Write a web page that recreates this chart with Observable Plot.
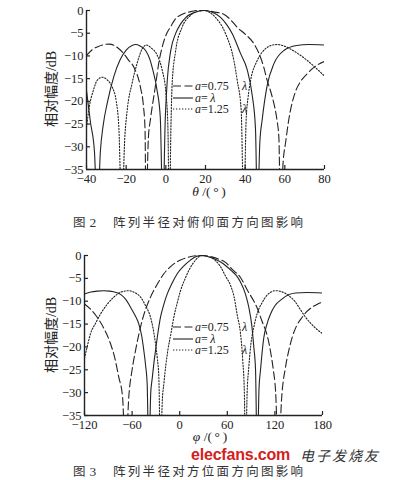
<!DOCTYPE html>
<html lang="zh-CN"><head><meta charset="utf-8">
<script src="https://cdn.jsdelivr.net/npm/d3@7"></script>
<script src="https://cdn.jsdelivr.net/npm/@observablehq/plot@0.6"></script>
<style>
body{margin:0;background:#fff;}
#root{position:relative;width:393px;height:480px;overflow:hidden;font-family:"Liberation Serif","Noto Sans CJK SC",serif;color:#222;background:#fff;}
.abs{position:absolute;white-space:nowrap;}
.ylab{font-size:14px;line-height:14px;transform:translate(-50%,-50%) rotate(-90deg);}
.xlab{font-size:13.5px;line-height:14px;transform:translate(-50%,-50%);}
.cap{font-family:"Noto Sans CJK SC",sans-serif;font-size:12.5px;line-height:13px;transform:translateY(-50%);color:#333;}
.cap .n{font-family:"Liberation Serif",serif;font-size:13.5px;margin-left:4px;}
.cap .t{letter-spacing:2.3px;position:absolute;left:40px;top:0;}
.leg{font-size:12px;line-height:10px;height:10px;transform:translateY(-50%);display:flex;align-items:center;}
.leg svg{margin-right:2px;}
</style></head><body><div id="root"></div>
<script>
// ---- data ----
const thetaTicks = [-40, -20, 0, 20, 40, 60, 80];
const phiTicks = [-120, -60, 0, 60, 120, 180];
const dbTicks = [0, -5, -10, -15, -20, -25, -30, -35];
const seriesLabels = ["0.75", "", "1.25"];

// Fig.2 elevation plane: [theta, dB]
const elev075 = [[-40,-9.9],[-37,-8.6],[-34,-7.9],[-31,-7.5],[-28.5,-7.4],[-26,-7.7],[-24,-8.3],[-22,-9.1],[-19,-10.8],[-16.1,-12.5],[-12.8,-16.9],[-11.3,-21],[-10.5,-26],[-10,-45],[-8.8,-28],[-7.7,-23.8],[-5.2,-16.5],[-3.5,-11.4],[-1.5,-7.5],[0.5,-5],[2.4,-3.6],[4.9,-1.8],[8,-0.9],[12,-0.3],[16,0],[20,0],[24,-0.3],[29.2,-0.8],[33,-2.2],[36,-3.7],[40,-5.2],[44.4,-7.3],[47,-9.5],[49.4,-12.5],[51.1,-15.4],[53,-18],[54.5,-20.5],[56,-24],[57,-28],[57.8,-45],[59.2,-33],[60.4,-29],[62,-24],[65.4,-17.8],[68,-15.6],[71.3,-13.9],[75,-12.4],[80,-11.2]];
const elevL = [[-40,-17.6],[-38,-24.6],[-36,-31],[-34.5,-45],[-33,-31],[-31.5,-25],[-29.6,-20.5],[-26.2,-14.5],[-23,-10.8],[-20,-8.7],[-17,-7.7],[-15.3,-7.5],[-13,-7.8],[-10.2,-8.8],[-8,-10.8],[-6.9,-12.5],[-4.4,-17.6],[-2.8,-23.5],[-1.5,-45],[-0.3,-24],[0.7,-15.5],[2.4,-9],[4.9,-5.1],[7.4,-3],[9.9,-1.6],[14,-0.5],[19.5,0],[24,-0.5],[27.6,-1.5],[30.5,-3],[33.5,-5.1],[37.7,-9.5],[41,-13],[43.5,-18.5],[45.2,-26],[46.2,-45],[47.4,-29],[48.6,-24],[51.1,-16.5],[54.5,-11.7],[59.5,-8.8],[66,-7.7],[72,-7.5],[80,-7.6]];
const elev125 = [[-40,-25.7],[-38.5,-21],[-36.5,-17.5],[-34.5,-15.3],[-32,-14.7],[-29.5,-15.3],[-27,-16.9],[-25,-20],[-23.7,-25.7],[-22.2,-45],[-20.7,-28],[-19.5,-22],[-17,-16],[-14.4,-11.5],[-12,-8.5],[-9.8,-7.6],[-7.5,-8.2],[-4.4,-9.8],[-1.8,-13.2],[0,-18],[1,-25],[1.8,-45],[2.6,-25],[3.2,-16],[4.9,-9],[8.2,-3.7],[12.4,-1.1],[16,-0.2],[19.5,0],[22,-0.4],[25,-1.5],[30.1,-5.1],[34.3,-11],[36,-15.4],[38,-22],[39.3,-45],[40.5,-24],[41.5,-19],[42.7,-15.5],[46.1,-11],[50.3,-8.4],[53,-7.7],[56.2,-7.5],[59.5,-7.8],[62.9,-8.5],[67,-9.6],[71.3,-11],[75.5,-12.6],[79.7,-14.3]];

// Fig.3 azimuth plane: [phi, dB]
const azim075 = [[-120,-10.6],[-112,-11.8],[-104,-13.5],[-96,-15.8],[-87.2,-19.3],[-82,-22.3],[-76.8,-26.6],[-72,-31],[-68.3,-45],[-64.2,-31],[-60,-25],[-55.7,-20.8],[-47.3,-14.2],[-36.8,-9.1],[-28,-6.2],[-20,-4],[-10,-2.2],[1,-1],[10,-0.4],[20,-0.05],[28,0],[38,-0.2],[48,-0.7],[57.7,-1.5],[66,-3],[76.6,-4.8],[85,-7.5],[97.7,-11.5],[104,-14.5],[110.3,-17.5],[114.5,-21],[118,-25],[120.8,-29.5],[124.6,-45],[128.3,-31.7],[133.4,-24.4],[137.5,-20.8],[141.8,-17.9],[147,-15.5],[154.4,-13.5],[160,-12.3],[167,-11.3],[173,-10.7],[180,-10.2]];
const azimL = [[-120,-8.4],[-112,-8],[-104,-7.8],[-96,-7.7],[-88,-7.8],[-80,-8.1],[-74.6,-8.5],[-68,-9.6],[-62,-11.3],[-56,-13.2],[-51.5,-15],[-48,-17.5],[-45.2,-20.8],[-43,-24],[-41,-28.1],[-38.9,-45],[-36.5,-30],[-34.7,-27],[-32.5,-23.5],[-30.5,-20.8],[-27.5,-17],[-24.2,-13.5],[-20,-10.7],[-15.7,-8.4],[-10,-6.2],[-3.1,-4],[5,-2.3],[13.6,-1],[21,-0.2],[28,0],[35,-0.2],[45,-0.8],[55,-1.8],[65,-3.3],[72,-4.5],[76.6,-5.8],[83,-8.5],[87.1,-11.3],[91,-15.5],[93.4,-20],[95.6,-25],[97.7,-45],[100,-29],[101.9,-25],[104,-21],[106,-18],[110,-15],[114.5,-12.8],[120,-11],[129.2,-9.5],[137,-8.6],[146,-8.2],[160,-8.1],[180,-8.2]];
const azim125 = [[-120,-22.5],[-116,-19.5],[-112.4,-17.1],[-106,-14.8],[-99.8,-12.8],[-92,-10.8],[-83,-9.1],[-74,-8],[-64.2,-7.7],[-57,-8.1],[-49.4,-9.1],[-43,-11],[-36.8,-13.5],[-33.5,-16],[-30.5,-19.3],[-28.2,-22.5],[-26.3,-26.6],[-24.2,-45],[-22,-32],[-20,-28.1],[-17.5,-24],[-15,-20.8],[-11,-17],[-7.4,-13.5],[-3,-10.3],[1,-7.7],[7,-5],[13.6,-2.6],[20,-1],[25,-0.2],[30,0],[35,-0.2],[45.1,-1.1],[52,-2.6],[57.7,-4.5],[64,-6.5],[68.5,-9],[72.5,-13],[76.6,-17],[79.5,-23],[81.5,-30],[83,-45],[85,-30],[87.1,-24.4],[90,-19],[93.4,-15.7],[98,-12.5],[104,-10.3],[110,-8.7],[115,-8],[120.8,-7.7],[128,-7.9],[137.5,-8.8],[145,-10],[152,-11.8],[158.6,-13.5],[165,-14.8],[172,-16],[180,-17.1]];

// ---- drawing ----
const ink = "#222";
const styles = [
  {strokeDasharray: "8,3.5"},
  {},
  {strokeDasharray: "1.3,1.7"}
];

function chart(o) {
  const [x0, x1] = o.xDomain;
  const innerW = o.width - o.ml - o.mr, innerH = o.height - o.mt - o.mb;
  const xTickLen = 4 * (x1 - x0) / innerW;
  const yTickLen = 4 * 35 / innerH;
  return Plot.plot({
    width: o.width, height: o.height,
    marginLeft: o.ml, marginRight: o.mr, marginTop: o.mt, marginBottom: o.mb,
    style: {fontFamily: '"Liberation Serif", serif', fontSize: "12.5px", color: ink, background: "transparent", overflow: "visible"},
    x: {domain: o.xDomain},
    y: {domain: [-35, 0]},
    marks: [
      ...o.series.map((s, i) => Plot.line(s, {
        x: d => d[0], y: d => d[1], curve: "monotone-x", clip: true,
        stroke: ink, strokeWidth: 1.1, ...styles[i]
      })),
      Plot.ruleX([x0], {stroke: ink, strokeWidth: 1.4}),
      Plot.ruleY([-35], {stroke: ink, strokeWidth: 1.4}),
      Plot.ruleX(o.xTicks, {x: d => d, y1: -35, y2: -35 + yTickLen, stroke: ink, strokeWidth: 1.2}),
      Plot.ruleY(dbTicks, {y: d => d, x1: x0, x2: x0 + xTickLen, stroke: ink, strokeWidth: 1.2}),
      Plot.axisX({ticks: o.xTicks, tickSize: 0, tickPadding: 5, label: null, fontSize: 12.5}),
      Plot.axisY({ticks: dbTicks, tickSize: 0, tickPadding: 3, label: null, fontSize: 12.5})
    ]
  });
}

const root = document.getElementById("root");
function place(el, left, top) {
  el.style.position = "absolute"; el.style.left = left + "px"; el.style.top = top + "px";
  root.appendChild(el);
}
function html(cls, left, top, inner) {
  const d = document.createElement("div");
  d.className = "abs " + cls; d.innerHTML = inner;
  d.style.left = left + "px"; d.style.top = top + "px";
  root.appendChild(d);
  return d;
}
function legend(left, top) {
  seriesLabels.forEach((lab, i) => {
    const dash = styles[i].strokeDasharray || "none";
    const sample = `<svg width="20" height="6"><line x1="0" y1="3" x2="20" y2="3" stroke="${ink}" stroke-width="1.1" stroke-dasharray="${dash}"/></svg>`;
    const txt = lab
      ? `<i>a</i>=${lab}<i style="position:absolute;left:69px">λ</i>`
      : `<i>a</i>=&#8201;<i>λ</i>`;
    html("leg", left, top + i * 11.5, sample + `<span>${txt}</span>`);
  });
}
function caption(top, num, text) {
  html("cap", 73, top, `图<span class="n">${num}</span><span class="t">${text}</span>`);
}

// Figure 2
const c1 = chart({xDomain: [-40, 80], xTicks: thetaTicks, series: [elev075, elevL, elev125],
  width: 393, height: 200, ml: 86, mr: 69, mt: 10, mb: 31});
place(c1, 0, 0);
html("ylab", 52, 89, "相对幅度/dB");
html("xlab", 209, 192, "<i>θ</i> /(&#8201;°&#8201;)");
legend(173, 86);
caption(222, "2", "阵列半径对俯仰面方向图影响");

// Figure 3
const c2 = chart({xDomain: [-120, 180], xTicks: phiTicks, series: [azim075, azimL, azim125],
  width: 393, height: 205, ml: 84, mr: 71, mt: 15, mb: 30});
place(c2, 0, 240);
html("ylab", 52, 335, "相对幅度/dB");
html("xlab", 210, 437, "<i>φ</i> /(&#8201;°&#8201;)");
legend(173, 327);
caption(471, "3", "阵列半径对方位面方向图影响");
html("", 191, 446, '<span style="font-family:Liberation Sans,sans-serif;font-weight:bold;font-size:16px;line-height:16px;color:#d42020;letter-spacing:-0.2px">elecfans.com</span>');
html("", 300, 447, '<span style="font-family:Noto Sans CJK SC,sans-serif;font-style:italic;font-size:14px;line-height:15px;color:#333;letter-spacing:2px">电子发烧友</span>');
</script></body></html>
